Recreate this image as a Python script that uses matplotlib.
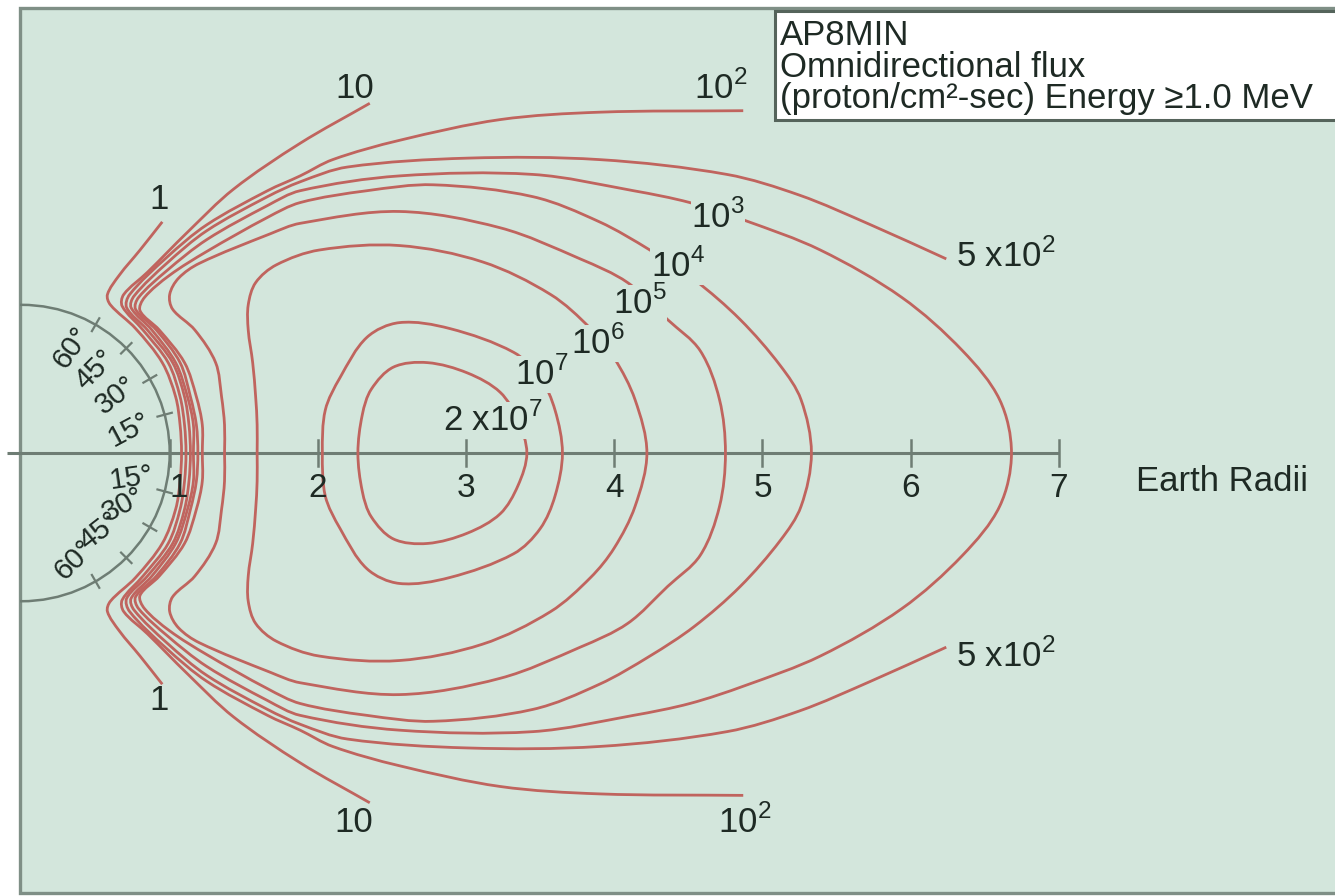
import numpy as np
import matplotlib.pyplot as plt
from matplotlib.path import Path
from matplotlib.patches import PathPatch, Rectangle, Circle

plt.rcParams['font.family'] = ['Liberation Sans', 'DejaVu Sans']

# upper halves of the flux contours, in Earth radii (mirrored for the lower half)
# open contours run from the equator crossing to the label end
c1_x = [1.08, 1.07, 1.04, 0.95, 0.77, 0.60, 0.58, 0.66, 0.80, 0.95]
c1_y = [0.00, 0.19, 0.38, 0.61, 0.84, 1.00, 1.07, 1.20, 1.37, 1.56]

c10_x = [1.11, 1.10, 1.07, 0.99, 0.82, 0.68, 0.69, 0.85, 1.12, 1.43, 1.88, 2.35]
c10_y = [0.00, 0.19, 0.38, 0.61, 0.83, 0.99, 1.07, 1.22, 1.49, 1.78, 2.09, 2.36]

c1e2_x = [1.14, 1.13, 1.10, 1.02, 0.85, 0.71, 0.73, 0.98, 1.25, 1.66, 1.88, 2.10,
          2.55, 3.23, 3.90, 4.87]
c1e2_y = [0.00, 0.19, 0.38, 0.61, 0.83, 0.98, 1.07, 1.32, 1.54, 1.77, 1.87, 1.98,
          2.11, 2.25, 2.30, 2.31]

c5e2_x = [1.16, 1.16, 1.12, 1.04, 0.88, 0.74, 0.76, 0.98, 1.25, 1.66, 1.88, 2.20,
          3.01, 3.90, 4.76, 5.25, 5.73, 6.24]
c5e2_y = [0.00, 0.19, 0.38, 0.61, 0.83, 0.98, 1.06, 1.28, 1.50, 1.73, 1.83, 1.93,
          1.99, 1.98, 1.88, 1.74, 1.54, 1.31]

# closed contours run from the inner to the outer equator crossing
c1e3_x = [1.19, 1.18, 1.14, 1.07, 0.91, 0.77, 0.79, 0.98, 1.25, 1.66, 1.88, 2.55,
          3.45, 4.13, 4.51, 4.88, 5.39, 5.94, 6.35, 6.60, 6.68]
c1e3_y = [0.00, 0.19, 0.38, 0.61, 0.83, 0.97, 1.05, 1.23, 1.44, 1.67, 1.77, 1.87,
          1.88, 1.77, 1.69, 1.57, 1.37, 1.05, 0.69, 0.36, 0.00]

c1e4_x = [1.22, 1.22, 1.18, 1.10, 0.93, 0.80, 0.83, 1.00, 1.25, 1.66, 1.88, 2.33,
          2.78, 3.45, 3.90, 4.24, 4.54, 4.85, 5.12, 5.26, 5.33]
c1e4_y = [0.00, 0.19, 0.38, 0.61, 0.83, 0.96, 1.05, 1.20, 1.36, 1.59, 1.69, 1.77,
          1.81, 1.73, 1.56, 1.37, 1.17, 0.90, 0.59, 0.36, 0.00]

c1e5_x = [1.37, 1.37, 1.35, 1.31, 1.17, 1.02, 1.00, 1.06, 1.20, 1.68, 1.88, 2.55,
          3.23, 3.77, 4.09, 4.36, 4.58, 4.71, 4.75]
c1e5_y = [0.00, 0.19, 0.38, 0.61, 0.83, 0.97, 1.07, 1.18, 1.28, 1.48, 1.55, 1.63,
          1.52, 1.31, 1.15, 0.90, 0.69, 0.36, 0.00]

c1e6_x = [1.59, 1.59, 1.58, 1.56, 1.53, 1.53, 1.58, 1.72, 2.01, 2.55, 3.11, 3.57,
          3.84, 4.00, 4.14, 4.22]
c1e6_y = [0.00, 0.19, 0.38, 0.61, 0.83, 1.00, 1.15, 1.27, 1.37, 1.40, 1.29, 1.07,
          0.84, 0.64, 0.36, 0.00]

c1e7_x = [2.03, 2.05, 2.15, 2.33, 2.55, 2.89, 3.32, 3.50, 3.60, 3.65]
c1e7_y = [0.00, 0.29, 0.51, 0.78, 0.88, 0.84, 0.68, 0.51, 0.29, 0.00]

c2e7_x = [2.27, 2.30, 2.36, 2.51, 2.74, 3.01, 3.23, 3.35, 3.41]
c2e7_y = [0.00, 0.26, 0.43, 0.58, 0.61, 0.54, 0.41, 0.22, 0.00]

open_contours = [(c1_x, c1_y), (c10_x, c10_y), (c1e2_x, c1e2_y), (c5e2_x, c5e2_y)]
closed_contours = [(c1e3_x, c1e3_y), (c1e4_x, c1e4_y), (c1e5_x, c1e5_y),
                   (c1e6_x, c1e6_y), (c1e7_x, c1e7_y), (c2e7_x, c2e7_y)]

radii_ticks = [1, 2, 3, 4, 5, 6, 7]
lat_ticks = [15, 30, 45, 60]

BG = '#d3e6dc'
RED = '#c0645e'
GREY = '#6e7d74'
INK = '#1e2a24'
FS = 25


def smooth_path(xs, ys, closed=False):
    """Courbe lisse passant par les points lus (Bezier cubiques)."""
    p = np.column_stack([xs, ys]).astype(float)
    if closed:
        p = np.vstack([p, p[:1]])
    n = len(p)
    d = np.linalg.norm(np.diff(p, axis=0), axis=1)
    tang = np.zeros_like(p)
    for i in range(n):
        if 0 < i < n - 1:
            tang[i] = (p[i + 1] - p[i - 1]) / (d[i - 1] + d[i])
        elif closed:
            tang[i] = (p[1] - p[-2]) / (d[0] + d[-1])
        elif i == 0:
            tang[i] = (p[1] - p[0]) / d[0]
        else:
            tang[i] = (p[-1] - p[-2]) / d[-1]
    verts = [p[0]]
    codes = [Path.MOVETO]
    for i in range(n - 1):
        verts += [p[i] + tang[i] * d[i] / 3, p[i + 1] - tang[i + 1] * d[i] / 3, p[i + 1]]
        codes += [Path.CURVE4] * 3
    return Path(verts, codes)


fig = plt.figure(figsize=(13.35, 8.96), dpi=100, facecolor='white')
ax = fig.add_axes([0, 0, 1, 1])
ax.set_xlim(-0.145, 8.863)
ax.set_ylim(-2.989, 3.057)
ax.axis('off')

frame = Rectangle((-0.01, -2.969), 9.5, 5.972, facecolor=BG, edgecolor='#7f8f86',
                  lw=2.4, zorder=0)
ax.add_patch(frame)

# Terre et latitudes
earth = Circle((0, 0), 1.0, fill=False, edgecolor=GREY, lw=1.8, zorder=2)
ax.add_patch(earth)
earth.set_clip_path(frame)
for lat in lat_ticks:
    for s in (1, -1):
        a = np.radians(lat) * s
        ax.plot([0.95 * np.cos(a), 1.05 * np.cos(a)], [0.95 * np.sin(a), 1.05 * np.sin(a)],
                color=GREY, lw=1.6, zorder=2)

lat_top = {60: (0.34, 0.71, 55), 45: (0.50, 0.56, 45), 30: (0.64, 0.39, 38), 15: (0.73, 0.16, 28)}
lat_bot = {15: (0.74, -0.17, 8), 30: (0.69, -0.35, 28), 45: (0.53, -0.53, 38), 60: (0.36, -0.72, 45)}
for lat in lat_ticks:
    for table in (lat_top, lat_bot):
        x, y, rot = table[lat]
        ax.text(x, y, f'{lat}°', fontsize=21, color=INK, rotation=rot,
                ha='center', va='center', rotation_mode='anchor', zorder=4)

# axe en rayons terrestres
ax.plot([-0.1, 7], [0, 0], color=GREY, lw=2.2, zorder=2, solid_capstyle='butt')
for r in radii_ticks:
    ax.plot([r, r], [-0.085, 0.085], color=GREY, lw=1.8, zorder=2)
    ax.text(r + (0.06 if r == 1 else 0), -0.24, str(r), fontsize=FS - 1, color=INK,
            ha='center', va='center', zorder=4)
ax.text(8.10, -0.19, 'Earth Radii', fontsize=FS, color=INK, ha='center', va='center')

# contours de flux
for xs, ys in open_contours:
    full_x = [x for x in reversed(xs[1:])] + list(xs)
    full_y = [-y for y in reversed(ys[1:])] + list(ys)
    ax.add_patch(PathPatch(smooth_path(full_x, full_y), fill=False, edgecolor=RED,
                           lw=2.0, zorder=3))
for xs, ys in closed_contours:
    full_x = list(xs) + [x for x in reversed(xs[1:-1])]
    full_y = list(ys) + [-y for y in reversed(ys[1:-1])]
    ax.add_patch(PathPatch(smooth_path(full_x, full_y, closed=True), fill=False,
                           edgecolor=RED, lw=2.0, zorder=3))

sup = lambda s: r'$^{\mathregular{' + s + '}}$'
end_labels = [('1', 0.93, 1.71), ('1', 0.93, -1.67), ('10', 2.25, 2.46), ('10', 2.24, -2.49),
              ('10' + sup('2'), 4.72, 2.46), ('10' + sup('2'), 4.88, -2.49),
              ('5 x10' + sup('2'), 6.64, 1.33), ('5 x10' + sup('2'), 6.64, -1.37)]
for txt, x, y in end_labels:
    ax.text(x, y, txt, fontsize=FS, color=INK, ha='center', va='center', zorder=4)

inner_labels = [('10' + sup('3'), 4.70, 1.59), ('10' + sup('4'), 4.43, 1.26),
                ('10' + sup('5'), 4.17, 1.01), ('10' + sup('6'), 3.89, 0.74),
                ('10' + sup('7'), 3.51, 0.53), ('2 x10' + sup('7'), 3.18, 0.22)]
for txt, x, y in inner_labels:
    ax.text(x, y, txt, fontsize=FS, color=INK, ha='center', va='center', zorder=4,
            bbox=dict(boxstyle='square,pad=0.02', facecolor=BG, edgecolor='none'))

# encadré
ax.add_patch(Rectangle((5.085, 2.25), 4.0, 0.73, facecolor='white', edgecolor='#55645b',
                       lw=2.2, zorder=5))
info = ['AP8MIN', 'Omnidirectional flux', '(proton/cm²-sec) Energy ≥1.0 MeV']
for i, line in enumerate(info):
    ax.text(5.12, 2.75 - i * 0.21, line, fontsize=FS, color=INK, ha='left',
            va='baseline', zorder=6)

fig.savefig('out.png', dpi=100, facecolor='white')
